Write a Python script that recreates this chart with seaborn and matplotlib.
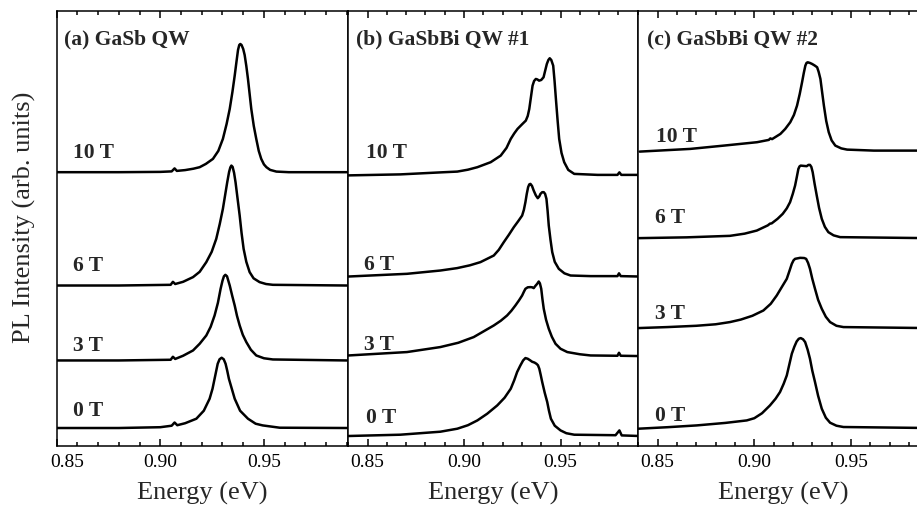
import matplotlib
matplotlib.use("Agg")
import matplotlib.pyplot as plt
import matplotlib.transforms as mtransforms
from matplotlib.ticker import MultipleLocator, FormatStrFormatter
import seaborn as sns
import pandas as pd

# ---------------- data: PL spectra (energy in eV, stacked intensity in arb. units) ----------------
fields = ["0 T", "3 T", "6 T", "10 T"]
panel_titles = ["(a) GaSb QW", "(b) GaSbBi QW #1", "(c) GaSbBi QW #2"]

# (a) GaSb QW
a_0T_E = [0.850, 0.880, 0.900, 0.9055, 0.9069, 0.9082, 0.912, 0.9174, 0.921, 0.9238, 0.9252, 0.9262, 0.9270, 0.9277,
          0.9286, 0.9296, 0.9306, 0.9315, 0.9323, 0.9331, 0.9345, 0.9359, 0.9385, 0.9423, 0.946, 0.9494, 0.9576, 0.990]
a_0T_I = [0.177, 0.177, 0.185, 0.200, 0.232, 0.205, 0.225, 0.270, 0.350, 0.470, 0.570, 0.670, 0.750, 0.820,
          0.865, 0.880, 0.865, 0.820, 0.750, 0.670, 0.570, 0.470, 0.350, 0.270, 0.220, 0.203, 0.180, 0.177]
a_3T_E = [0.850, 0.880, 0.905, 0.9061, 0.9072, 0.911, 0.9158, 0.919, 0.9222, 0.9243, 0.9262, 0.9278, 0.9291, 0.9300,
          0.9307, 0.9314, 0.9322, 0.9335, 0.9347, 0.9359, 0.9370, 0.9383, 0.9398, 0.9415, 0.9437, 0.9463, 0.950, 0.9543, 0.990]
a_3T_I = [0.853, 0.853, 0.860, 0.890, 0.868, 0.900, 0.953, 1.020, 1.103, 1.190, 1.303, 1.430, 1.570, 1.650,
          1.695, 1.710, 1.695, 1.603, 1.500, 1.403, 1.300, 1.203, 1.110, 1.037, 0.960, 0.903, 0.875, 0.863, 0.853]
a_6T_E = [0.850, 0.880, 0.9050, 0.9061, 0.9072, 0.911, 0.9158, 0.919, 0.9222, 0.9248, 0.9270, 0.9287, 0.9302, 0.9313,
          0.9323, 0.9332, 0.9338, 0.9343, 0.9349, 0.9356, 0.9363, 0.9373, 0.9383, 0.9392, 0.9402, 0.9415, 0.9431, 0.945,
          0.9479, 0.951, 0.9543, 0.990]
a_6T_I = [1.603, 1.603, 1.610, 1.640, 1.618, 1.640, 1.687, 1.740, 1.837, 1.940, 2.070, 2.220, 2.370, 2.510,
          2.637, 2.740, 2.785, 2.803, 2.790, 2.730, 2.637, 2.470, 2.303, 2.130, 1.970, 1.840, 1.737, 1.675,
          1.637, 1.618, 1.610, 1.603]
a_10T_E = [0.850, 0.880, 0.900, 0.9055, 0.9069, 0.9080, 0.912, 0.916, 0.919, 0.922, 0.9254, 0.928, 0.9302, 0.932,
           0.9335, 0.9348, 0.9359, 0.9368, 0.9375, 0.9381, 0.9386, 0.9392, 0.9400, 0.9407, 0.9415, 0.9423, 0.9431,
           0.9439, 0.9451, 0.9463, 0.9475, 0.9487, 0.950, 0.9512, 0.953, 0.9560, 0.962, 0.990]
a_10T_I = [2.737, 2.737, 2.740, 2.745, 2.775, 2.750, 2.758, 2.772, 2.787, 2.820, 2.870, 2.950, 3.070, 3.220,
           3.370, 3.540, 3.703, 3.850, 3.960, 4.010, 4.020, 4.010, 3.970, 3.910, 3.800, 3.670, 3.520,
           3.370, 3.200, 3.070, 2.950, 2.870, 2.815, 2.787, 2.760, 2.743, 2.737, 2.737]

# (b) GaSbBi QW #1
b_0T_E = [0.8400, 0.8669, 0.8877, 0.8965, 0.9020, 0.9069, 0.9120, 0.9172, 0.9210, 0.9242, 0.9260, 0.9275, 0.9291,
          0.9306, 0.9318, 0.9330, 0.9342, 0.9353, 0.9365, 0.9375, 0.9383, 0.9390, 0.9397, 0.9405, 0.9418, 0.9431,
          0.9440, 0.9450, 0.9470, 0.9500, 0.9530, 0.9571, 0.9785, 0.9805, 0.9817, 0.9908]
b_0T_I = [0.097, 0.110, 0.140, 0.170, 0.205, 0.253, 0.320, 0.403, 0.480, 0.570, 0.655, 0.737, 0.800,
          0.853, 0.877, 0.870, 0.855, 0.840, 0.832, 0.820, 0.805, 0.770, 0.710, 0.637, 0.530, 0.437,
          0.350, 0.270, 0.200, 0.153, 0.125, 0.110, 0.105, 0.153, 0.103, 0.097]
b_3T_E = [0.8401, 0.8704, 0.8877, 0.8970, 0.9050, 0.9154, 0.9190, 0.9223, 0.9245, 0.9266, 0.9285, 0.9301, 0.9310,
          0.9318, 0.9330, 0.9344, 0.9353, 0.9361, 0.9370, 0.9379, 0.9387, 0.9393, 0.9400, 0.9406, 0.9413, 0.9425,
          0.9439, 0.9455, 0.9474, 0.9500, 0.9535, 0.9600, 0.9656, 0.9795, 0.9803, 0.9812, 0.9906]
b_3T_I = [0.903, 0.937, 0.987, 1.030, 1.087, 1.203, 1.250, 1.303, 1.350, 1.403, 1.455, 1.503, 1.540,
          1.570, 1.585, 1.587, 1.585, 1.577, 1.600, 1.620, 1.643, 1.625, 1.570, 1.470, 1.370, 1.260,
          1.170, 1.090, 1.020, 0.970, 0.937, 0.915, 0.903, 0.900, 0.930, 0.900, 0.897]
b_6T_E = [0.8401, 0.8704, 0.8877, 0.8964, 0.9030, 0.9085, 0.9154, 0.9180, 0.9206, 0.9232, 0.9258, 0.9280, 0.9301,
          0.9310, 0.9318, 0.9325, 0.9332, 0.9338, 0.9344, 0.9352, 0.9361, 0.9372, 0.9382, 0.9390, 0.9396, 0.9405,
          0.9413, 0.9420, 0.9427, 0.9433, 0.9439, 0.9448, 0.9457, 0.9470, 0.9491, 0.9520, 0.9552, 0.9656, 0.9795,
          0.9803, 0.9812, 0.9906]
b_6T_I = [1.693, 1.720, 1.753, 1.777, 1.805, 1.837, 1.903, 1.960, 2.037, 2.110, 2.187, 2.245, 2.303,
          2.360, 2.437, 2.520, 2.587, 2.615, 2.620, 2.600, 2.553, 2.505, 2.477, 2.495, 2.520, 2.537,
          2.537, 2.520, 2.470, 2.350, 2.203, 2.060, 1.937, 1.840, 1.770, 1.725, 1.703, 1.697, 1.697,
          1.725, 1.697, 1.693]
b_10T_E = [0.8400, 0.8670, 0.8877, 0.8965, 0.9020, 0.9069, 0.9138, 0.9190, 0.9220, 0.9242, 0.9260, 0.9277, 0.9300,
           0.9320, 0.9330, 0.9338, 0.9346, 0.9355, 0.9363, 0.9372, 0.9380, 0.9389, 0.9400, 0.9412, 0.9420, 0.9429,
           0.9437, 0.9444, 0.9452, 0.9462, 0.9469, 0.9476, 0.9485, 0.9493, 0.9505, 0.9519, 0.9540, 0.9571, 0.9692,
           0.9795, 0.9805, 0.9815, 0.9908]
b_10T_I = [2.705, 2.715, 2.735, 2.743, 2.762, 2.787, 2.837, 2.903, 2.980, 3.070, 3.125, 3.170, 3.215,
           3.253, 3.300, 3.370, 3.480, 3.603, 3.650, 3.670, 3.665, 3.653, 3.660, 3.687, 3.750, 3.820,
           3.860, 3.877, 3.860, 3.803, 3.650, 3.470, 3.250, 3.070, 2.930, 2.837, 2.760, 2.720, 2.710,
           2.710, 2.735, 2.710, 2.710]

# (c) GaSbBi QW #2
c_0T_E = [0.8400, 0.8550, 0.8702, 0.8850, 0.8961, 0.9000, 0.9040, 0.9081, 0.9110, 0.9133, 0.9152, 0.9168, 0.9182,
          0.9194, 0.9207, 0.9219, 0.9230, 0.9240, 0.9252, 0.9263, 0.9276, 0.9288, 0.9300, 0.9314, 0.9330, 0.9349,
          0.9370, 0.9392, 0.9425, 0.9461, 0.9900]
c_0T_I = [0.170, 0.185, 0.203, 0.228, 0.253, 0.275, 0.325, 0.403, 0.470, 0.537, 0.620, 0.703, 0.820,
          0.920, 0.990, 1.043, 1.070, 1.077, 1.065, 1.037, 0.960, 0.870, 0.750, 0.637, 0.500, 0.370,
          0.280, 0.230, 0.200, 0.187, 0.177]
c_3T_E = [0.8400, 0.8550, 0.8700, 0.8800, 0.8874, 0.8930, 0.8990, 0.9047, 0.9085, 0.9116, 0.9143, 0.9168, 0.9182,
          0.9194, 0.9203, 0.9211, 0.9237, 0.9258, 0.9268, 0.9278, 0.9288, 0.9300, 0.9314, 0.9330, 0.9349, 0.9370,
          0.9392, 0.9425, 0.9461, 0.9900]
c_3T_I = [1.177, 1.187, 1.200, 1.215, 1.237, 1.262, 1.300, 1.353, 1.420, 1.503, 1.590, 1.670, 1.750,
          1.820, 1.855, 1.870, 1.880, 1.878, 1.870, 1.830, 1.770, 1.670, 1.570, 1.460, 1.370, 1.290,
          1.237, 1.200, 1.187, 1.177]
c_6T_E = [0.8400, 0.8650, 0.8874, 0.8950, 0.9013, 0.9070, 0.9081, 0.9090, 0.9120, 0.9147, 0.9168, 0.9185, 0.9199,
          0.9211, 0.9220, 0.9228, 0.9234, 0.9240, 0.9255, 0.9271, 0.9280, 0.9288, 0.9295, 0.9302, 0.9312, 0.9323,
          0.9335, 0.9349, 0.9365, 0.9383, 0.9410, 0.9444, 0.9900]
c_6T_I = [2.077, 2.085, 2.100, 2.122, 2.153, 2.205, 2.222, 2.225, 2.270, 2.320, 2.375, 2.437, 2.520,
          2.603, 2.690, 2.770, 2.795, 2.803, 2.800, 2.797, 2.810, 2.810, 2.790, 2.737, 2.620, 2.503,
          2.380, 2.270, 2.190, 2.137, 2.105, 2.087, 2.077]
c_10T_E = [0.8407, 0.8669, 0.8842, 0.9014, 0.9075, 0.9083, 0.9092, 0.9135, 0.9160, 0.9186, 0.9205, 0.9221, 0.9235,
           0.9247, 0.9256, 0.9264, 0.9270, 0.9276, 0.9288, 0.9299, 0.9312, 0.9325, 0.9333, 0.9342, 0.9350, 0.9360,
           0.9372, 0.9385, 0.9400, 0.9419, 0.9450, 0.9480, 0.9618, 0.9900]
c_10T_I = [2.943, 2.970, 3.003, 3.037, 3.060, 3.075, 3.068, 3.120, 3.170, 3.237, 3.310, 3.403, 3.520,
           3.637, 3.730, 3.803, 3.830, 3.837, 3.830, 3.820, 3.805, 3.787, 3.740, 3.670, 3.550, 3.403,
           3.250, 3.137, 3.055, 3.003, 2.975, 2.963, 2.953, 2.953]

# field-label anchor points (energy, intensity) for each panel, same order as `fields`
a_label_E = [0.8577, 0.8577, 0.8577, 0.8577]
a_label_I = [0.31, 0.96, 1.763, 2.89]
b_label_E = [0.8493, 0.8483, 0.8483, 0.8493]
b_label_I = [0.237, 0.963, 1.77, 2.89]
c_label_E = [0.8486, 0.8486, 0.8486, 0.8493]
c_label_I = [0.253, 1.277, 2.243, 3.053]

panels = [
    dict(title=panel_titles[0], xlim=(0.85, 0.9904),
         curves=[(a_0T_E, a_0T_I), (a_3T_E, a_3T_I), (a_6T_E, a_6T_I), (a_10T_E, a_10T_I)],
         lab=(a_label_E, a_label_I)),
    dict(title=panel_titles[1], xlim=(0.8397, 0.9903),
         curves=[(b_0T_E, b_0T_I), (b_3T_E, b_3T_I), (b_6T_E, b_6T_I), (b_10T_E, b_10T_I)],
         lab=(b_label_E, b_label_I)),
    dict(title=panel_titles[2], xlim=(0.84, 0.99),
         curves=[(c_0T_E, c_0T_I), (c_3T_E, c_3T_I), (c_6T_E, c_6T_I), (c_10T_E, c_10T_I)],
         lab=(c_label_E, c_label_I)),
]

# ---------------- styling ----------------
sns.set_theme(style="ticks")
plt.rcParams["font.family"] = ["Liberation Serif", "DejaVu Serif"]

fig = plt.figure(figsize=(9.17, 5.06), dpi=100)

W, H = 917.0, 506.0
bottom_px, top_px = 446.7, 12.3
ax_boxes = [(56.6, 347.7), (347.7, 638.3), (638.3, 928.3)]
ymax = 4.347

axes = []
for (x0, x1) in ax_boxes:
    ax = fig.add_axes([x0 / W, (H - bottom_px) / H, (x1 - x0) / W, (bottom_px - top_px) / H])
    axes.append(ax)

for i, (ax, p) in enumerate(zip(axes, panels)):
    rows = []
    for f, (E, I) in zip(fields, p["curves"]):
        rows.append(pd.DataFrame({"Energy": E, "Intensity": I, "Field": f}))
    df = pd.concat(rows, ignore_index=True)
    sns.lineplot(data=df, x="Energy", y="Intensity", units="Field", estimator=None,
                 sort=False, color="black", linewidth=1.8, ax=ax, legend=False)

    ax.set_xlim(*p["xlim"])
    ax.set_ylim(0, ymax)
    ax.set_ylabel("")
    ax.set_xlabel("Energy (eV)", fontsize=19, labelpad=8)
    ax.set_yticks([])

    ax.xaxis.set_major_locator(MultipleLocator(0.05))
    ax.xaxis.set_minor_locator(MultipleLocator(0.01))
    ax.xaxis.set_major_formatter(FormatStrFormatter("%.2f"))
    ax.tick_params(axis="x", which="both", direction="in", top=True, bottom=True,
                   labelsize=14, width=1.1, color="black", labelcolor="black", pad=5)
    ax.tick_params(axis="x", which="major", length=5)
    ax.tick_params(axis="x", which="minor", length=3)

    for s in ax.spines.values():
        s.set_linewidth(1.1)
        s.set_color("black")
        s.set_visible(True)

    ax.text(0.0, 0.0, p["title"], transform=mtransforms.offset_copy(
        ax.transAxes, fig=fig, x=7.5 if i == 0 else 8.5, y=(bottom_px - top_px) - 32, units="dots"),
        fontsize=15.5, fontweight="bold", ha="left", va="baseline")

    LE, LI = p["lab"]
    for f, le, li in zip(fields, LE, LI):
        ax.text(le, li, f, fontsize=15.5, fontweight="bold", ha="left", va="baseline")

# the 0.85 label of panel (a) sits just right of the axis corner
fig.canvas.draw()
for lbl in axes[0].get_xticklabels():
    if lbl.get_text() == "0.85":
        lbl.set_transform(lbl.get_transform() + mtransforms.ScaledTranslation(11 / 100, 0, fig.dpi_scale_trans))

fig.text(24 / W, 1 - 217 / H, "PL Intensity (arb. units)", rotation=90, fontsize=19,
         ha="center", va="center")

fig.savefig("out.png", dpi=100)
